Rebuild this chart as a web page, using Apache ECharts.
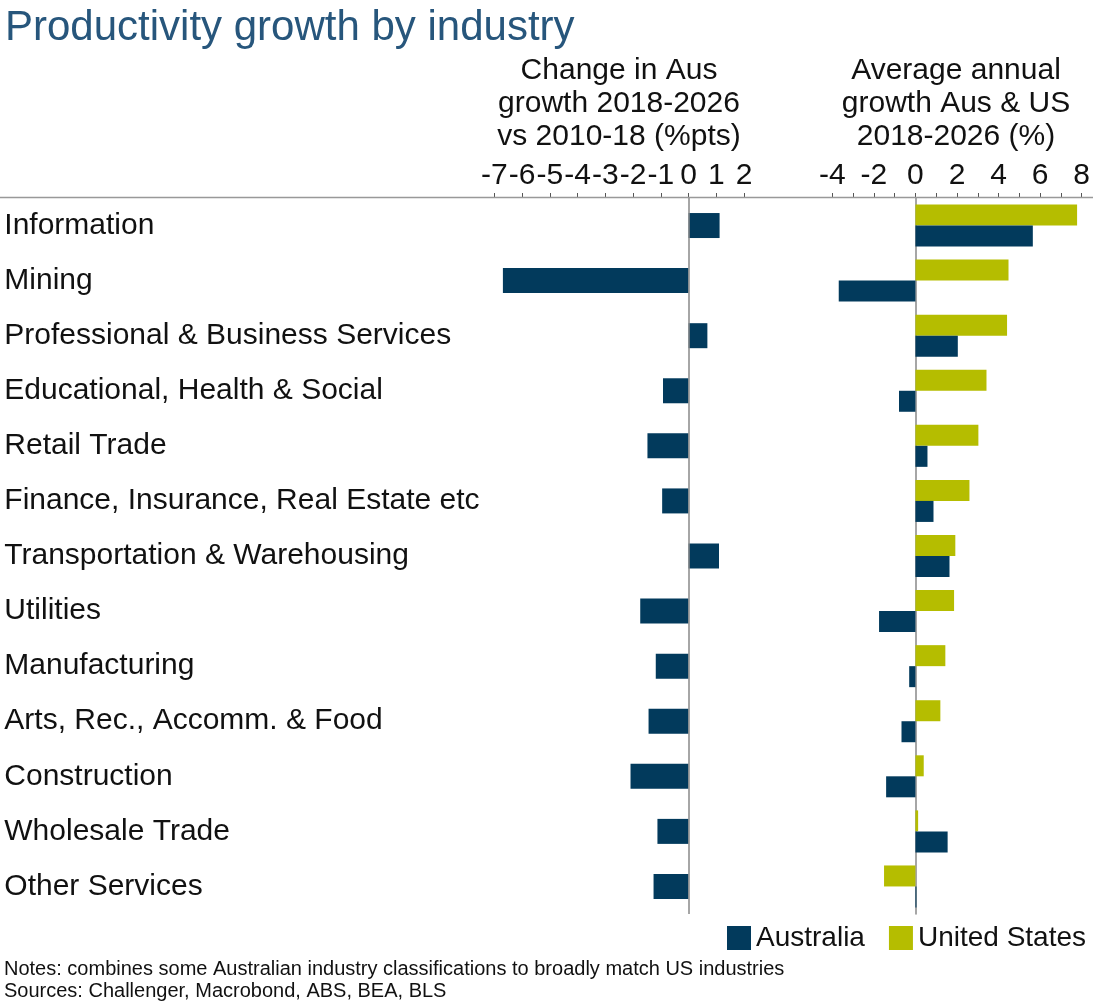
<!DOCTYPE html>
<html><head><meta charset="utf-8">
<script src="https://cdn.jsdelivr.net/npm/echarts@6/dist/echarts.min.js"></script>
<style>html,body{margin:0;padding:0;background:#fff}#c{width:1093px;height:1006px}</style>
</head><body><div id="c"></div>
<script>
const categories = ["Information","Mining","Professional & Business Services","Educational, Health & Social","Retail Trade","Finance, Insurance, Real Estate etc","Transportation & Warehousing","Utilities","Manufacturing","Arts, Rec., Accomm. & Food","Construction","Wholesale Trade","Other Services"];
const ausChange = [1.12,-6.69,0.68,-0.92,-1.48,-0.95,1.10,-1.74,-1.18,-1.44,-2.09,-1.12,-1.26];
const ausGrowth = [5.65,-3.69,2.04,-0.79,0.58,0.87,1.64,-1.75,-0.30,-0.67,-1.41,1.55,0.05];
const usGrowth = [7.78,4.48,4.41,3.42,3.03,2.60,1.92,1.86,1.44,1.20,0.40,0.13,-1.51];
const leftTitle = ["Change in Aus","growth 2018-2026","vs 2010-18 (%pts)"];
const rightTitle = ["Average annual","growth Aus & US","2018-2026 (%)"];
const notes = ["Notes: combines some Australian industry classifications to broadly match US industries","Sources: Challenger, Macrobond, ABS, BEA, BLS"];

const NAVY = '#023A5C', LIME = '#B5BD00';
const FONT = '"Liberation Sans", Arial, sans-serif';
const chart = echarts.init(document.getElementById('c'));
const gridTop = 198, gridHeight = 716;
chart.setOption({
  animation: false,
  textStyle: {fontFamily: FONT},
  title: {text: 'Productivity growth by industry', left: 0, top: 2,
    textStyle: {fontFamily: FONT, fontSize: 42, fontWeight: 'normal', color: '#27567C'}},
  legend: {data: ['Australia','United States'], left: 727, top: 919, width: 366, itemWidth: 24, itemHeight: 24, itemGap: 24,
    padding: [5, 0, 5, 0], icon: 'rect', textStyle: {fontSize: 28, color: '#111', fontFamily: FONT}},
  grid: [
    {left: 494.3, width: 249.7, top: gridTop, height: gridHeight},
    {left: 832.3, width: 249.4, top: gridTop, height: gridHeight}
  ],
  xAxis: [
    {gridIndex: 0, type: 'value', position: 'top', min: -7, max: 2, interval: 1,
      axisLine: {show: false}, splitLine: {show: false},
      axisTick: {show: true, length: 5, lineStyle: {color: '#555'}},
      axisLabel: {fontSize: 30, color: '#111', margin: 7, hideOverlap: false, fontFamily: FONT}},
    {gridIndex: 1, type: 'value', position: 'top', min: -4, max: 8, interval: 1,
      axisLine: {show: false}, splitLine: {show: false},
      axisTick: {show: true, length: 5, lineStyle: {color: '#555'}},
      axisLabel: {fontSize: 30, color: '#111', margin: 7, fontFamily: FONT,
        formatter: v => (v % 2 === 0 ? String(v) : '')}}
  ],
  yAxis: [
    {gridIndex: 0, type: 'category', inverse: true, data: categories,
      axisLine: {show: false, onZero: false}, axisTick: {show: false},
      axisLabel: {align: 'left', margin: 490, fontSize: 30, color: '#111', fontFamily: FONT, interval: 0, padding: [8, 0, 0, 0]}},
    {gridIndex: 1, type: 'category', inverse: true, data: categories,
      axisLine: {show: true, lineStyle: {color: '#888', width: 1.5}}, axisTick: {show: false},
      axisLabel: {show: false}}
  ],
  series: [
    {name: 'Australia', type: 'bar', xAxisIndex: 0, yAxisIndex: 0, data: ausChange, barWidth: 25,
      itemStyle: {color: NAVY},
      markLine: {silent: true, symbol: 'none', label: {show: false},
        lineStyle: {color: '#888', width: 1.5, type: 'solid'}, data: [{xAxis: 0}]}},
    {name: 'United States', type: 'bar', xAxisIndex: 1, yAxisIndex: 1, data: usGrowth, barWidth: 21, barGap: '0%',
      itemStyle: {color: LIME}},
    {name: 'Australia', type: 'bar', xAxisIndex: 1, yAxisIndex: 1, data: ausGrowth, barWidth: 21, barGap: '0%',
      itemStyle: {color: NAVY}}
  ],
  graphic: [
    {type: 'line', shape: {x1: 0, y1: 197.5, x2: 1093, y2: 197.5}, style: {stroke: '#999', lineWidth: 1.5}, z: 10},
    {type: 'text', x: 619, y: 54, style: {text: leftTitle.join('\n'), font: '30px ' + FONT, fill: '#111', textAlign: 'center', lineHeight: 33}},
    {type: 'text', x: 956, y: 54, style: {text: rightTitle.join('\n'), font: '30px ' + FONT, fill: '#111', textAlign: 'center', lineHeight: 33}},
    {type: 'text', x: 4, y: 959, style: {text: notes[0], font: '20px ' + FONT, fill: '#111'}},
    {type: 'text', x: 4, y: 981, style: {text: notes[1], font: '20px ' + FONT, fill: '#111'}}
  ]
});
</script></body></html>
